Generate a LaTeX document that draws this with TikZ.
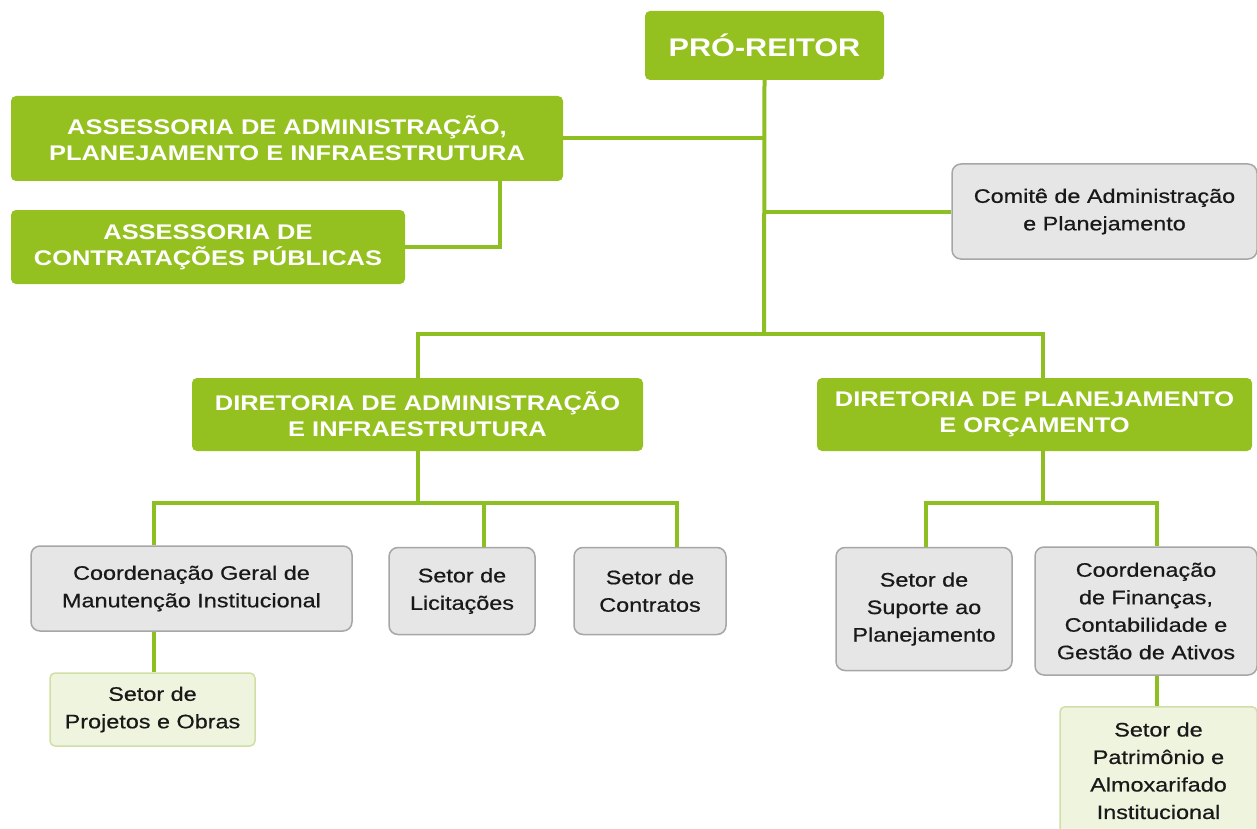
\documentclass[tikz,border=0pt]{standalone}
\usepackage{fontspec}
\setmainfont{Liberation Sans}[FakeStretch=1.2]
\newfontfamily\unitfont{Liberation Sans}[FakeStretch=1.2, FakeBold=0.6]
\usepackage{tikz}

\definecolor{leafgreen}{HTML}{94C11F}
\definecolor{linkgreen}{HTML}{8DBF22}
\definecolor{boxgray}{HTML}{E6E6E6}
\definecolor{edgegray}{HTML}{A6A6A6}
\definecolor{palegreen}{HTML}{EFF4DE}
\definecolor{paleedge}{HTML}{CFE0A6}

\tikzset{
  headbox/.style={fill=leafgreen, rounded corners=5pt, inner sep=0pt, align=center,
    text=white, font=\bfseries\fontsize{21.2}{26}\selectfont},
  unitbox/.style={fill=boxgray, draw=edgegray, line width=1.5pt, rounded corners=9pt,
    inner sep=0pt, align=center, text=black!90, font=\unitfont\fontsize{19.5}{27.5}\selectfont},
  sectorbox/.style={unitbox, fill=palegreen, draw=paleedge, rounded corners=5pt},
  link/.style={draw=linkgreen, line width=4pt}
}

\begin{document}
\begin{tikzpicture}[x=1pt,y=-1pt]
\useasboundingbox (0,0) rectangle (1257,829);

\node[headbox, minimum width=239pt, minimum height=69pt, font=\bfseries\fontsize{25.5}{30}\selectfont]
  (reitor) at (764.5,45.5) {PRÓ-REITOR};
\node[headbox, minimum width=552pt, minimum height=85pt] (assadm) at (287,138.5)
  {ASSESSORIA DE ADMINISTRAÇÃO,\\PLANEJAMENTO E INFRAESTRUTURA};
\node[headbox, minimum width=394pt, minimum height=74pt] (asscont) at (208,247)
  {ASSESSORIA DE\\CONTRATAÇÕES PÚBLICAS};
\node[unitbox, minimum width=305pt, minimum height=95pt] (comite) at (1104.5,211.5)
  {Comitê de Administração\\e Planejamento};

\node[headbox, minimum width=451pt, minimum height=73pt] (diradm) at (417.5,414.5)
  {DIRETORIA DE ADMINISTRAÇÃO\\E INFRAESTRUTURA};
\node[headbox, minimum width=435pt, minimum height=73pt] (dirplan) at (1034.5,414.5)
  {DIRETORIA DE PLANEJAMENTO\\E ORÇAMENTO};

\node[unitbox, minimum width=321pt, minimum height=85pt] (coordger) at (191.5,588.5)
  {Coordenação Geral de\\Manutenção Institucional};
\node[unitbox, minimum width=146pt, minimum height=87pt] (licit) at (462,591)
  {Setor de\\Licitações};
\node[unitbox, minimum width=152pt, minimum height=87pt] (contr) at (650,591)
  {Setor de\\Contratos};
\node[sectorbox, minimum width=205pt, minimum height=73pt] (projetos) at (152.5,709.5)
  {Setor de\\Projetos e Obras};

\node[unitbox, minimum width=176pt, minimum height=123pt] (suporte) at (924,609)
  {Setor de\\Suporte ao\\Planejamento};
\node[unitbox, minimum width=222pt, minimum height=128pt] (coordfin) at (1146,611)
  {Coordenação\\de Finanças,\\Contabilidade e\\Gestão de Ativos};
\node[sectorbox, minimum width=197pt, minimum height=128pt, anchor=north] (patrim) at (1158.5,706)
  {Setor de\\Patrimônio e\\Almoxarifado\\Institucional};

% junction points
\coordinate (split) at (764,334);
\coordinate (assjoin) at (500,138.5);
\coordinate (admbus) at (417.5,503);
\coordinate (planbus) at (1043,503);

% connectors
\path[link] (reitor.south) -- (split);
\path[link] (assadm.east) -- (assadm.east -| reitor.south);
\path[link] (assjoin |- assadm.south) |- (asscont.east);
\path[link] (comite.west) -- (comite.west -| reitor.south);
\path[link] (diradm.north) |- (split) -| ([xshift=8.5pt]dirplan.north);

\path[link] (diradm.south) -- (admbus);
\path[link] ([xshift=-37.5pt]coordger.north) |- (admbus) -| ([xshift=27pt]contr.north);
\path[link] ([xshift=22pt]licit.north) -- ([xshift=22pt]licit.north |- admbus);
\path[link] ([xshift=-37.5pt]coordger.south) -- ([xshift=-37.5pt]coordger.south |- projetos.north);

\path[link] ([xshift=8.5pt]dirplan.south) -- (planbus);
\path[link] ([xshift=2pt]suporte.north) |- (planbus) -| ([xshift=11pt]coordfin.north);
\path[link] ([xshift=11pt]coordfin.south) -- ([xshift=11pt]coordfin.south |- patrim.north);
\end{tikzpicture}
\end{document}
